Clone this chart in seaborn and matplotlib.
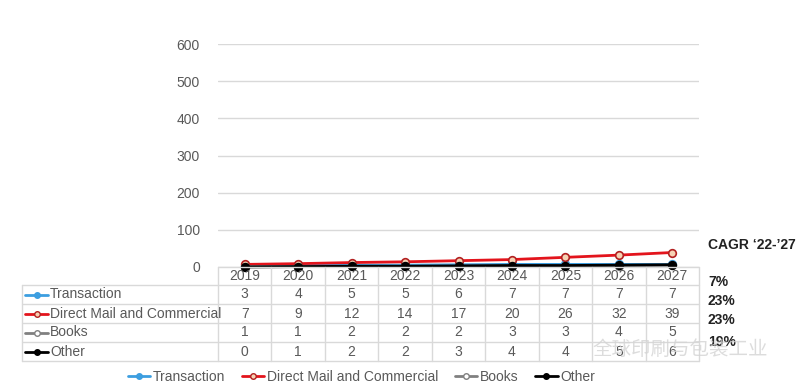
import pandas as pd
import seaborn as sns
import matplotlib.pyplot as plt
from matplotlib import transforms
from matplotlib.lines import Line2D

years = ["2019", "2020", "2021", "2022", "2023", "2024", "2025", "2026", "2027"]
series = ["Transaction", "Direct Mail and Commercial", "Books", "Other"]
transaction = [3, 4, 5, 5, 6, 7, 7, 7, 7]
direct_mail = [7, 9, 12, 14, 17, 20, 26, 32, 39]
books = [1, 1, 2, 2, 2, 3, 3, 4, 5]
other = [0, 1, 2, 2, 3, 4, 4, 5, 6]
cagr = ["7%", "23%", "23%", "19%"]
cagr_title = "CAGR \u201822-\u201927"
yticks = [0, 100, 200, 300, 400, 500, 600]

values = [transaction, direct_mail, books, other]
df = pd.DataFrame({
    "series": [s for s, v in zip(series, values) for _ in v],
    "year": [i for v in values for i in range(len(v))],
    "value": [x for v in values for x in v],
})

colors = {"Transaction": "#3c9ee0", "Direct Mail and Commercial": "#e3141c",
          "Books": "#808080", "Other": "#000000"}
faces = {"Transaction": "#3c9ee0", "Direct Mail and Commercial": "#f6d2b4",
         "Books": "#ffffff", "Other": "#000000"}
edges = {"Transaction": "#3c9ee0", "Direct Mail and Commercial": "#b22020",
         "Books": "#808080", "Other": "#000000"}

sns.set_style("white")
plt.rcParams["font.family"] = ["Liberation Sans", "DejaVu Sans"]
grey = "#595959"
line = "#d9d9d9"

W, H = 800, 388
fig = plt.figure(figsize=(W / 100, H / 100), dpi=100)
ax = fig.add_axes([218 / W, 1 - 267 / H, 481 / W, 223 / H])

for s in series:
    sns.lineplot(data=df[df["series"] == s], x="year", y="value", ax=ax,
                 color=colors[s], lw=2, marker="o", ms=5.5,
                 markerfacecolor=faces[s], markeredgecolor=edges[s],
                 markeredgewidth=1.2, clip_on=False, label=s, legend=False)

ax.set_xlim(-0.5, len(years) - 0.5)
ax.set_ylim(0, 600)
ax.set_yticks(yticks)
ax.set_yticklabels([str(t) for t in yticks], color=grey, fontsize=10)
ax.tick_params(axis="y", length=0, pad=13)
ax.set_xticks([])
ax.set_xlabel("")
ax.set_ylabel("")
ax.grid(axis="y", color=line, lw=1)
for sp in ax.spines.values():
    sp.set_visible(False)

# data table below the plot
def fy(px):
    return 1 - px / H

bt = transforms.blended_transform_factory(ax.transData, fig.transFigure)
rows = [267, 285, 304, 323, 342, 361]
x_right = 699 / W
x_lab = 218 / W
x_left = 22 / W
fig.add_artist(Line2D([x_lab, x_right], [fy(rows[0])] * 2, color=line, lw=1))
for r in rows[1:]:
    fig.add_artist(Line2D([x_left, x_right], [fy(r)] * 2, color=line, lw=1))
fig.add_artist(Line2D([x_left, x_left], [fy(rows[1]), fy(rows[-1])], color=line, lw=1))
for k in range(len(years) + 1):
    xb = (218 + k * 481 / len(years)) / W
    fig.add_artist(Line2D([xb, xb], [fy(rows[0]), fy(rows[-1])], color=line, lw=1))

for i, y in enumerate(years):
    ax.text(i, fy((rows[0] + rows[1]) / 2), y, transform=bt, ha="center",
            va="center", fontsize=10, color=grey)

for j, (s, v) in enumerate(zip(series, values)):
    yc = fy((rows[j + 1] + rows[j + 2]) / 2)
    fig.add_artist(Line2D([25 / W, 48 / W], [yc, yc], color=colors[s], lw=2))
    fig.add_artist(Line2D([36.5 / W], [yc], color=colors[s], lw=0, marker="o", ms=4,
                          markerfacecolor=faces[s], markeredgecolor=edges[s],
                          markeredgewidth=1))
    fig.text(50 / W, yc, s, ha="left", va="center", fontsize=10, color=grey)
    for i, val in enumerate(v):
        ax.text(i, yc, str(val), transform=bt, ha="center", va="center",
                fontsize=10, color=grey)

fig.text(708 / W, fy(245), cagr_title, ha="left", va="center", fontsize=10,
         fontweight="bold", color="#222222")
for c, yp in zip(cagr, [282, 301, 320, 342]):
    fig.text(708 / W, fy(yp), c, ha="left", va="center", fontsize=10,
             fontweight="bold", color="#222222")

handles = [Line2D([0], [0], color=colors[s], lw=2, marker="o", ms=4,
                  markerfacecolor=faces[s], markeredgecolor=edges[s],
                  markeredgewidth=1) for s in series]
fig.legend(handles, series, ncol=4, loc="center", bbox_to_anchor=(0.452, fy(377)),
           frameon=False, fontsize=10, handlelength=1.6, handletextpad=0.2,
           columnspacing=1.2, labelcolor=grey)

# watermark
fig.text(592 / W, fy(349), "全球印刷与包装工业", ha="left", va="center", fontsize=14,
         color="#d4d4d4", family=["Noto Sans CJK SC", "DejaVu Sans"], alpha=0.8)

plt.savefig("out.png", dpi=100)
